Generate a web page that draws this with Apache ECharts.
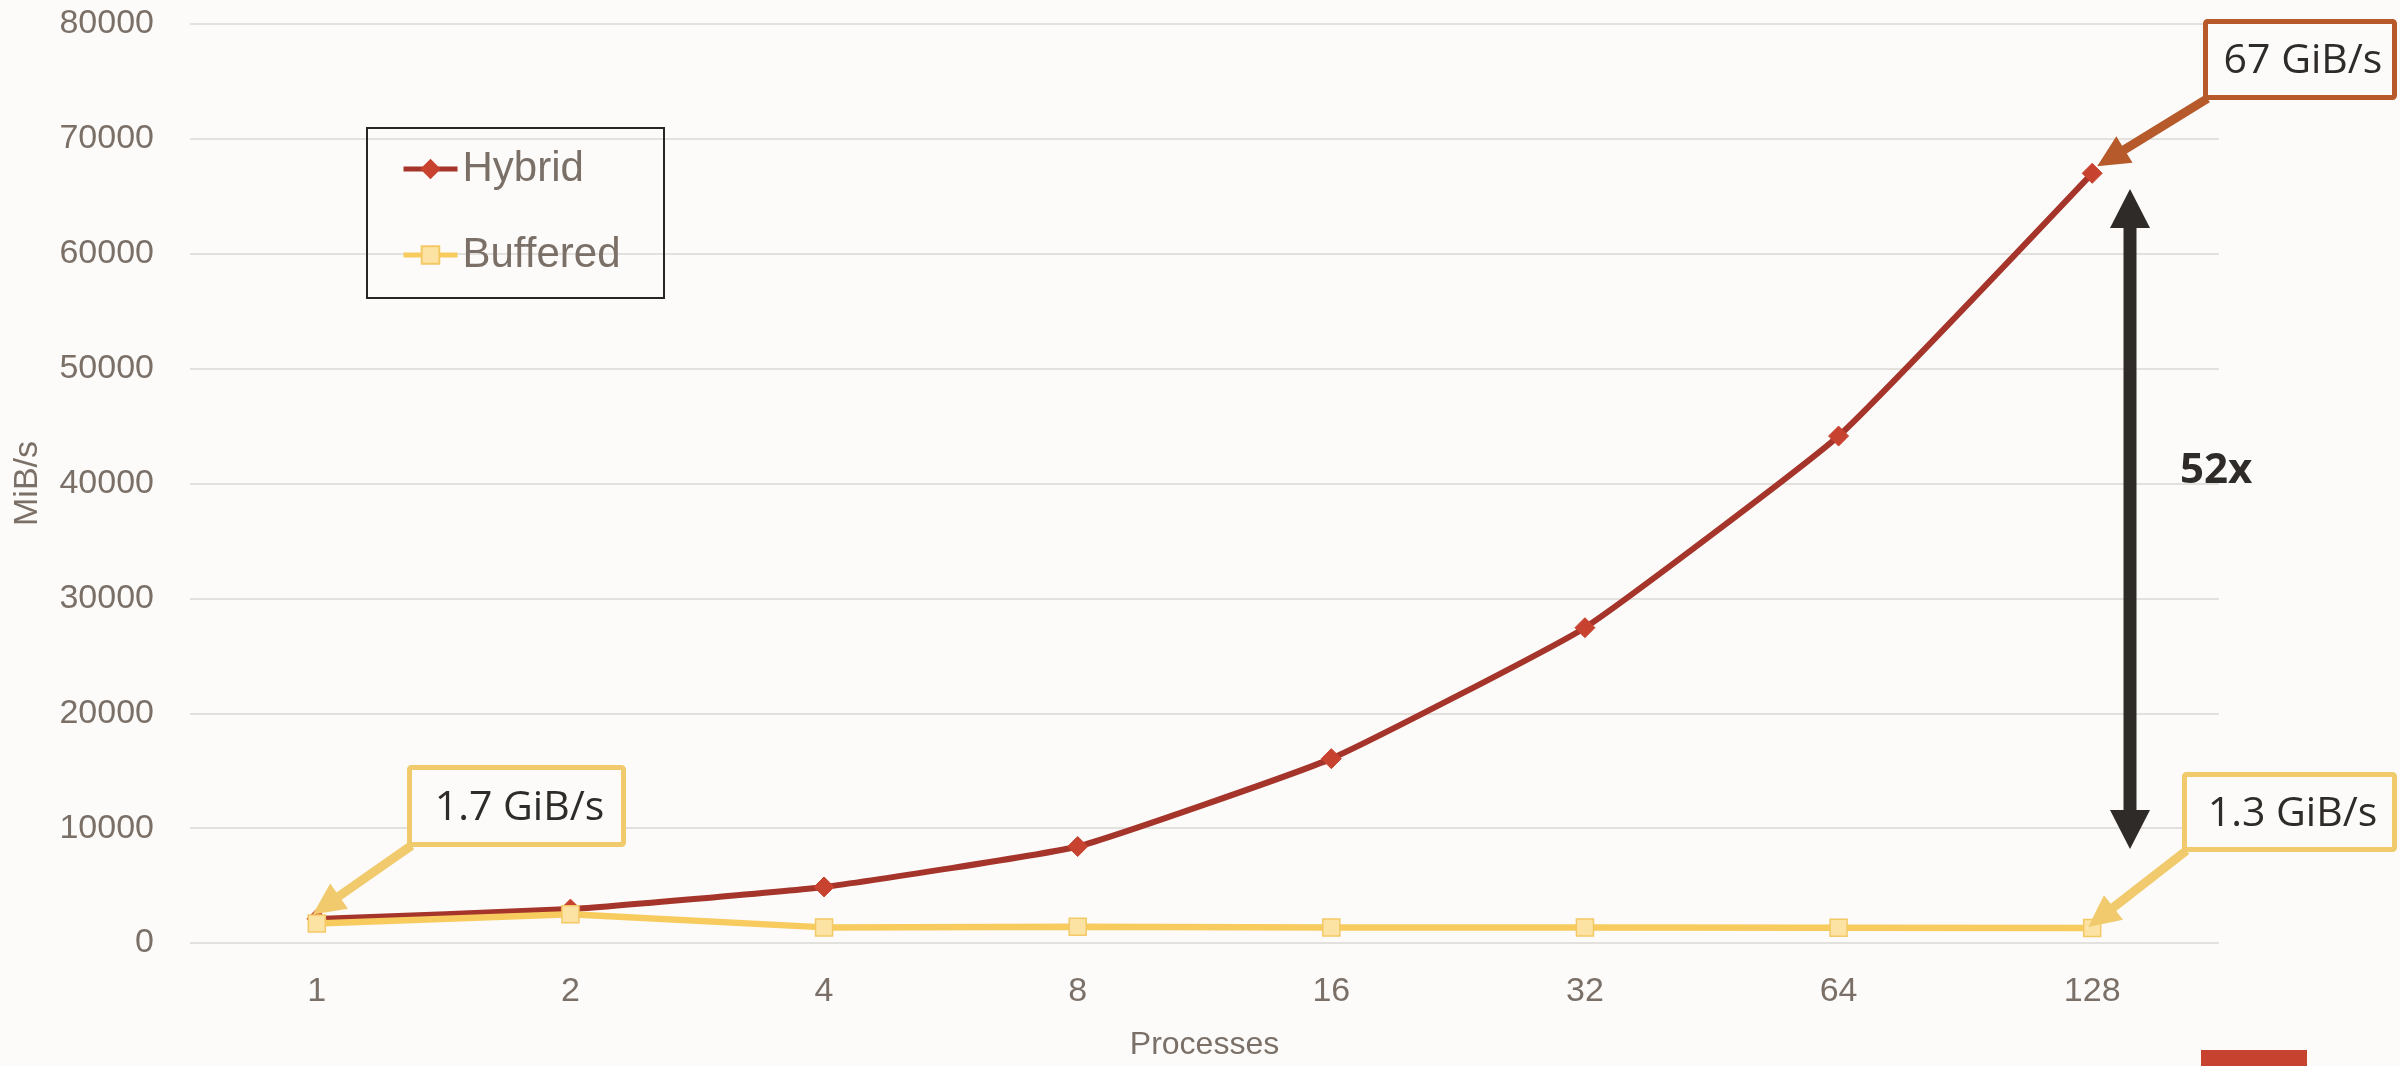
<!DOCTYPE html>
<html>
<head>
<meta charset="utf-8">
<script src="https://cdn.jsdelivr.net/npm/echarts@6/dist/echarts.min.js"></script>
<style>
  html, body { margin: 0; padding: 0; background: #FCFBF9; }
  #chart { width: 2400px; height: 1066px; }
</style>
</head>
<body>
<div id="chart"></div>
<script>
// Throughput (MiB/s) by number of processes
const processes = ['1', '2', '4', '8', '16', '32', '64', '128'];
const hybrid   = [2100, 2950, 4880, 8400, 16050, 27450, 44130, 67000];
const buffered = [1700, 2510, 1360, 1410, 1340, 1340, 1330, 1300];
const yTicks = { min: 0, max: 80000, interval: 10000 };

const BG = '#FCFBF9';
const AXIS_TXT = '#7B7068';
const HYB_LINE = '#A5342A', HYB_MARK = '#C8432F';
const BUF_LINE = '#F8CB5E', BUF_MARK = '#FDE3A3', BUF_EDGE = '#F3C965';
const CALLOUT_RED = '#B65A2C', CALLOUT_YEL = '#F0CA6C', DARK = '#2E2B28';

const chart = echarts.init(document.getElementById('chart'));

chart.setOption({
  backgroundColor: BG,
  animation: false,
  grid: { left: 190, right: 181, top: 24, bottom: 118 },
  legend: {
    orient: 'vertical',
    left: 401, top: 146, padding: 0,
    itemWidth: 54, itemHeight: 22, itemGap: 40,
    lineStyle: { width: 5 },
    textStyle: { fontFamily: 'Liberation Sans', fontSize: 42, lineHeight: 46, color: AXIS_TXT },
    data: ['Hybrid', 'Buffered']
  },
  xAxis: {
    type: 'category',
    data: processes,
    boundaryGap: true,
    axisLine: { show: false },
    axisTick: { show: false },
    axisLabel: { margin: 32, fontFamily: 'Liberation Sans', fontSize: 34, color: AXIS_TXT },
    name: 'Processes',
    nameLocation: 'middle',
    nameGap: 86,
    nameTextStyle: { fontFamily: 'Liberation Sans', fontSize: 32, color: AXIS_TXT }
  },
  yAxis: {
    type: 'value',
    min: yTicks.min, max: yTicks.max, interval: yTicks.interval,
    axisLine: { show: false },
    axisTick: { show: false },
    splitLine: { lineStyle: { color: '#E3E1DE', width: 2 } },
    axisLabel: {
      margin: 36, fontFamily: 'Liberation Sans', fontSize: 34, color: AXIS_TXT,
      formatter: v => String(v)
    },
    name: 'MiB/s',
    nameLocation: 'middle',
    nameGap: 145,
    nameTextStyle: { fontFamily: 'Liberation Sans', fontSize: 34, color: AXIS_TXT }
  },
  series: [
    {
      name: 'Hybrid', type: 'line', data: hybrid,
      smooth: 0.12,
      symbol: 'diamond', symbolSize: 20,
      lineStyle: { color: HYB_LINE, width: 6 },
      itemStyle: { color: HYB_MARK, borderColor: HYB_MARK, borderWidth: 1 },
      z: 2
    },
    {
      name: 'Buffered', type: 'line', data: buffered,
      symbol: 'rect', symbolSize: 17,
      lineStyle: { color: BUF_LINE, width: 6.5 },
      itemStyle: { color: BUF_MARK, borderColor: BUF_EDGE, borderWidth: 1.5 },
      z: 3
    }
  ]
});

// Arrow polygon from start to tip
function arrowPoints(s, t, shaft, headLen, headW) {
  const dx = t[0] - s[0], dy = t[1] - s[1];
  const len = Math.hypot(dx, dy);
  const ux = dx / len, uy = dy / len, nx = -uy, ny = ux;
  const b = [t[0] - ux * headLen, t[1] - uy * headLen];
  return [
    [s[0] + nx * shaft / 2, s[1] + ny * shaft / 2],
    [b[0] + nx * shaft / 2, b[1] + ny * shaft / 2],
    [b[0] + nx * headW / 2, b[1] + ny * headW / 2],
    t,
    [b[0] - nx * headW / 2, b[1] - ny * headW / 2],
    [b[0] - nx * shaft / 2, b[1] - ny * shaft / 2],
    [s[0] - nx * shaft / 2, s[1] - ny * shaft / 2]
  ];
}

function px(series, idx) {
  const v = series === 0 ? hybrid[idx] : buffered[idx];
  return chart.convertToPixel({ seriesIndex: series }, [idx, v]);
}

const gib = v => (v / 1000) + ' GiB/s';
const last = processes.length - 1;

const callouts = [
  { text: gib(hybrid[last]),   color: CALLOUT_RED, box: [2205.5, 21.5, 189, 76], series: 0, idx: last, off: [5, -7] },
  { text: gib(buffered[0]),    color: CALLOUT_YEL, box: [409.5, 767.5, 214, 77], series: 1, idx: 0, off: [-4, -9] },
  { text: gib(buffered[last]), color: CALLOUT_YEL, box: [2184.5, 774.5, 210, 75], series: 1, idx: last, off: [-4, -1] }
];

const graphics = [];

// legend frame
graphics.push({
  type: 'rect', z: 90,
  shape: { x: 367, y: 128, width: 297, height: 170 },
  style: { fill: null, stroke: '#262626', lineWidth: 2 }
});

callouts.forEach(c => {
  const p = px(c.series, c.idx);
  const tip = [p[0] + c.off[0], p[1] + c.off[1]];
  const start = [c.box[0] + 2, c.box[1] + c.box[3] + 1];
  graphics.push({
    type: 'polygon', z: 100,
    shape: { points: arrowPoints(start, tip, 9, 32, 31) },
    style: { fill: c.color }
  });
  graphics.push({
    type: 'rect', z: 101,
    shape: { x: c.box[0], y: c.box[1], width: c.box[2], height: c.box[3], r: 2 },
    style: { fill: BG, stroke: c.color, lineWidth: 5 }
  });
  graphics.push({
    type: 'text', z: 102,
    style: {
      text: c.text,
      x: c.box[0] + c.box[2] / 2 + 3, y: c.box[1] + c.box[3] / 2 + 2,
      align: 'center', verticalAlign: 'middle',
      font: '41px "Open Sans"', fill: DARK
    }
  });
});

// two-headed arrow showing the gap at 128 processes
(function () {
  const x = 2130, top = 189, bottom = 849, headLen = 39, headW = 40, shaft = 13;
  graphics.push({
    type: 'polygon', z: 100,
    shape: {
      points: [
        [x, top], [x + headW / 2, top + headLen], [x + shaft / 2, top + headLen],
        [x + shaft / 2, bottom - headLen], [x + headW / 2, bottom - headLen], [x, bottom],
        [x - headW / 2, bottom - headLen], [x - shaft / 2, bottom - headLen],
        [x - shaft / 2, top + headLen], [x - headW / 2, top + headLen]
      ]
    },
    style: { fill: DARK }
  });
  graphics.push({
    type: 'text', z: 102,
    style: {
      text: Math.round(hybrid[last] / buffered[last]) + 'x',
      x: 2180, y: 471, align: 'left', verticalAlign: 'middle',
      font: 'bold 42px "Open Sans"', fill: DARK
    }
  });
})();

// small accent block at the bottom edge
graphics.push({
  type: 'rect', z: 100,
  shape: { x: 2201, y: 1050, width: 106, height: 16 },
  style: { fill: '#C8432F' }
});

chart.setOption({ graphic: graphics });
</script>
</body>
</html>
